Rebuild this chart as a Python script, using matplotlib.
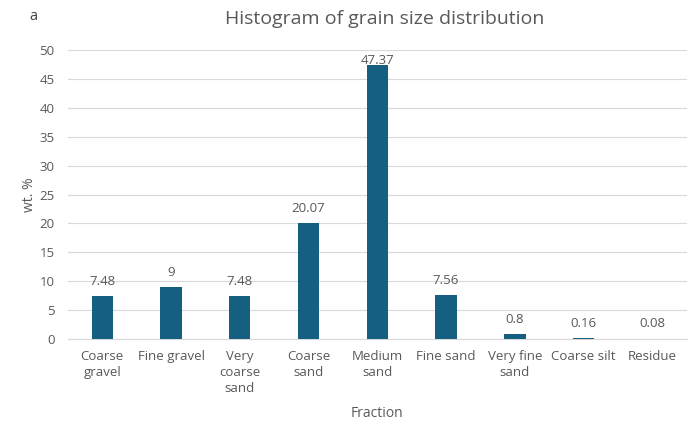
import matplotlib.pyplot as plt

categories = ['Coarse\ngravel', 'Fine gravel', 'Very\ncoarse\nsand', 'Coarse\nsand', 'Medium\nsand',
              'Fine sand', 'Very fine\nsand', 'Coarse silt', 'Residue']
values = [7.48, 9, 7.48, 20.07, 47.37, 7.56, 0.8, 0.16, 0.08]
value_labels = ['7.48', '9', '7.48', '20.07', '47.37', '7.56', '0.8', '0.16', '0.08']

text_color = '#595959'
bar_color = '#156082'

plt.rcParams['font.family'] = ['Open Sans', 'DejaVu Sans']

fig = plt.figure(figsize=(6.93, 4.28), dpi=100)
ax = fig.add_axes([0.098, 0.208, 0.893, 0.675])

x = range(len(categories))
ax.bar(x, values, width=0.31, color=bar_color, zorder=3)
for xi, v, lab in zip(x, values, value_labels):
    # labels near the top of the plot area get pushed down onto the bar
    ax.text(xi, min(v + 1.4, 47.0), lab, ha='center', va='bottom', fontsize=9.5, color=text_color,
            zorder=4)

ax.set_xlim(-0.5, len(categories) - 0.5)
ax.set_ylim(0, 50)
ax.set_yticks(range(0, 51, 5))
ax.set_xticks(list(x))
ax.set_xticklabels(categories, fontsize=9.5, color=text_color, linespacing=1.3, va='top')
ax.tick_params(axis='y', labelsize=9.5, labelcolor=text_color, length=0, pad=9.5)
ax.tick_params(axis='x', length=0, pad=8)
ax.grid(axis='y', color='#d9d9d9', linewidth=0.8, zorder=0)
for side in ['top', 'right', 'left']:
    ax.spines[side].set_visible(False)
ax.spines['bottom'].set_color('#d9d9d9')

ax.set_xlabel('Fraction', fontsize=10, color=text_color)
ax.xaxis.set_label_coords(0.5, -0.232)
ax.set_ylabel('wt. %', fontsize=10, color=text_color)
ax.yaxis.set_label_coords(-0.05, 0.5)

fig.text(0.555, 0.955, 'Histogram of grain size distribution', ha='center', va='center',
         fontsize=14, color=text_color)
fig.text(0.048, 0.962, 'a', ha='center', va='center', fontsize=10.5, color='#404040')

fig.savefig('out.png', dpi=100)
